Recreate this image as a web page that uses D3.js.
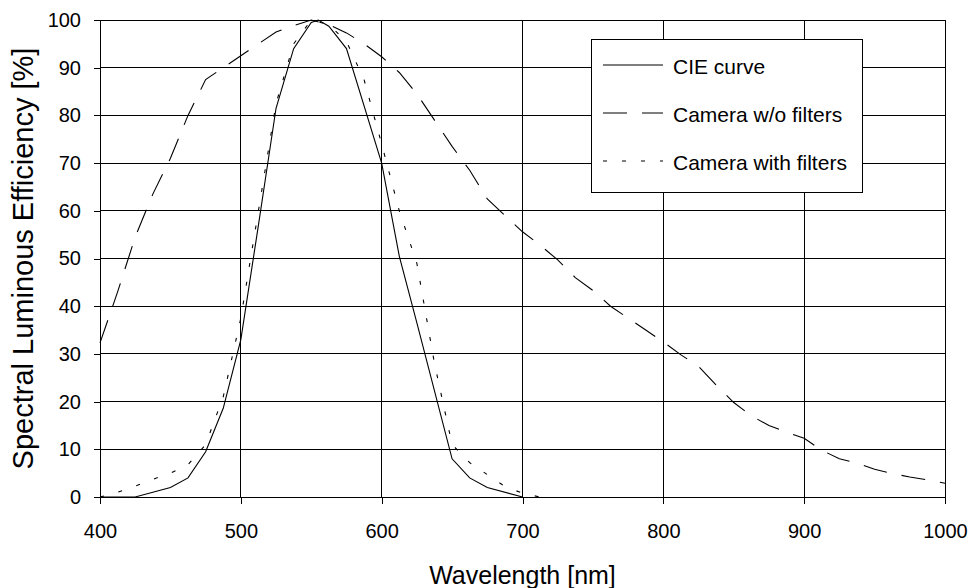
<!DOCTYPE html>
<html><head><meta charset="utf-8">
<script src="https://cdn.jsdelivr.net/npm/d3@7"></script>
<style>
html,body{margin:0;padding:0;background:#fff;}
svg{display:block;font-family:"Liberation Sans",Arial,sans-serif;}
</style></head>
<body><svg id="chart" width="970" height="588"></svg>
<script>
// ---- data ----
const xTicks = [400,500,600,700,800,900,1000];
const yTicks = [0,10,20,30,40,50,60,70,80,90,100];
const seriesNames = ["CIE curve","Camera w/o filters","Camera with filters"];

const cieWl  = [400,425,450,462.5,475,487.5,500,512.5,525,537.5,550,555,562.5,575,600,612.5,625,650,662.5,675,700];
const cieVal = [0,0,2,4,9.5,18.6,33,57,81.5,94,99.5,100,98.7,94,70,50.5,36.5,8,4,2,0];

const camWl  = [400,412.5,425,437.5,450,462.5,475,487.5,500,512.5,525,537.5,550,562.5,575,587.5,600,612.5,625,637.5,650,662.5,675,687.5,700,712.5,725,737.5,750,762.5,775,787.5,800,812.5,825,837.5,850,862.5,875,887.5,900,912.5,925,937.5,950,962.5,975,987.5,1000];
const camVal = [32.3,43,54.5,63.5,71,80,87.5,90,92.5,95,97.5,98.8,100,99,97.3,95,92.3,89,84.5,79,73.5,68.5,62.5,59,55.6,52.8,49.7,46,43.3,40,37.5,35,32.5,29.8,27.4,23.5,19.8,17,15,13.6,12.3,9.8,8,7.1,5.8,4.9,4.2,3.6,2.9];

const filtWl  = [400,412.5,425,437.5,450,462.5,475,487.5,500,512.5,525,537.5,550,562.5,575,587.5,600,612.5,625,637.5,650,662.5,675,687.5,700,712.5];
const filtVal = [0,1,2.3,3.7,5,6.8,11,21,37.5,60,82.5,95,100,99,95.5,87.5,74,60,49,28,11,7.2,4.7,2.2,0.8,0];

// ---- layout ----
const svg = d3.select("#chart");
const L = 100, R = 945, T = 20, B = 497;
const x = d3.scaleLinear().domain([400,1000]).range([L,R]);
const y = d3.scaleLinear().domain([0,100]).range([B,T]);
const font = '"Liberation Sans",Arial,sans-serif';

// grid
const g = svg.append("g");
g.selectAll("line.h").data(yTicks).join("line")
  .attr("x1",L).attr("x2",R).attr("y1",d=>y(d)).attr("y2",d=>y(d))
  .attr("stroke","#000").attr("stroke-width",1).attr("shape-rendering","crispEdges");
g.selectAll("line.v").data(xTicks).join("line")
  .attr("y1",T).attr("y2",B).attr("x1",d=>x(d)).attr("x2",d=>x(d))
  .attr("stroke","#000").attr("stroke-width",1).attr("shape-rendering","crispEdges");

// axes
const xAxis = d3.axisBottom(x).tickValues(xTicks).tickSize(7).tickPadding(20).tickFormat(d3.format("d"));
const yAxis = d3.axisLeft(y).tickValues(yTicks).tickSize(6).tickPadding(13).tickFormat(d3.format("d"));
const gx = svg.append("g").attr("transform",`translate(0,${B})`).call(xAxis);
const gy = svg.append("g").attr("transform",`translate(${L},0)`).call(yAxis);
[gx,gy].forEach(a=>{
  a.select(".domain").attr("stroke","#000").attr("shape-rendering","crispEdges");
  a.selectAll(".tick line").attr("stroke","#000").attr("shape-rendering","crispEdges");
  a.selectAll("text").attr("font-family",font).attr("font-size",20).attr("fill","#000");
});
gx.select(".domain").attr("d",`M${L},0H${R}`);
gy.select(".domain").attr("d",`M0,${B}V${T}`);

// titles
svg.append("text").attr("x",(L+R)/2).attr("y",584).attr("text-anchor","middle")
  .attr("font-family",font).attr("font-size",25).text("Wavelength [nm]");
svg.append("text").attr("transform",`translate(33,${(T+B)/2}) rotate(-90)`).attr("text-anchor","middle")
  .attr("font-family",font).attr("font-size",29).text("Spectral Luminous Efficiency [%]");

// lines
const line = d3.line().x(d=>x(d[0])).y(d=>y(d[1]));
const styles = [null,"24,15","4,15"];
const datasets = [
  d3.zip(cieWl,cieVal),
  d3.zip(camWl,camVal),
  d3.zip(filtWl,filtVal)
];
datasets.forEach((ds,i)=>{
  svg.append("path").datum(ds).attr("d",line).attr("fill","none")
    .attr("stroke","#000").attr("stroke-width",1.1)
    .attr("stroke-dasharray",styles[i]);
});

// legend
const lg = svg.append("g").attr("transform","translate(591,39)");
lg.append("rect").attr("x",0.5).attr("y",0.5).attr("width",271).attr("height",153)
  .attr("fill","#fff").attr("stroke","#000").attr("shape-rendering","crispEdges");
seriesNames.forEach((n,i)=>{
  const yy = 26 + i*48;
  lg.append("line").attr("x1",12).attr("x2",72).attr("y1",yy).attr("y2",yy)
    .attr("stroke","#000").attr("stroke-width",1.1).attr("stroke-dasharray",styles[i]);
  lg.append("text").attr("x",82).attr("y",yy).attr("dy","0.45em")
    .attr("font-family",font).attr("font-size",21).text(n);
});
</script></body></html>
